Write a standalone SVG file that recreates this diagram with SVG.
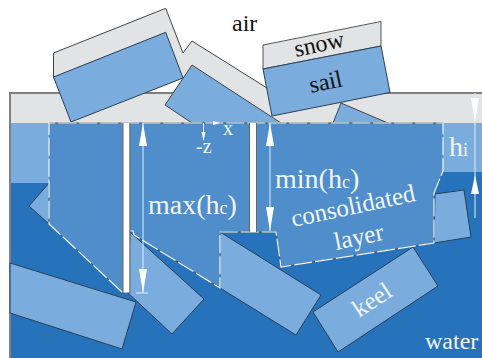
<svg xmlns="http://www.w3.org/2000/svg" width="482" height="358" viewBox="0 0 482 358">
<style>
.snow{fill:#e2e3e4;stroke:#555;stroke-width:1}
.ice{fill:#7aaddd;stroke:#2b3f55;stroke-width:1}
.edge{fill:none;stroke:#444;stroke-width:1}
.dim{stroke:#e3edf7;stroke-width:1;fill:none}
.head{fill:#fff}
text{font-family:"Liberation Serif",serif}
.w{fill:#f2f6fb}
.k{fill:#111}
</style>
<rect width="482" height="358" fill="#fff"/>
<g id="snow-layer"><rect x="10" y="93" width="472" height="30" fill="#e2e3e4"/><path d="M482 93H10V358" fill="none" stroke="#808080" stroke-width="2"/></g>
<g id="water"><rect x="11" y="123" width="471" height="235" fill="#2773bb"/>
<rect x="11" y="123" width="60" height="60" fill="#7aaddd"/><rect x="420" y="123" width="62" height="49" fill="#7aaddd"/></g>
<g id="block-middle"><polygon points="183,53 192,41 267,88 272,116 183,78" fill="#e2e3e4"/><path class="edge" d="M183 53L192 41L267 88"/><path d="M192 65L281 123H192L165 105Z" fill="#7aaddd"/><path class="edge" d="M281 123L192 65L165 105L192 123"/></g>
<g id="block-left"><polygon points="53.500,53 165.700,8.300 183,53 183,78 53.500,77" fill="#e2e3e4"/><path class="edge" d="M53.500 77V53L165.700 8.300L183 53"/><polygon class="ice" points="53.500,77 165.700,32.300 183,78 71,122"/></g>
<g id="block-small"><path d="M341 103L388 123H333Z" fill="#7aaddd"/><path class="edge" d="M333 123L341 103L388 123"/></g>
<g id="block-sail"><polygon class="snow" points="263,45 381,21.500 381,46 263,69"/><polygon class="ice" points="263,69 381,46 390,92.500 272,116"/></g>
<g id="blocks-below">
<polygon class="ice" points="29,206 49,183 49,224"/>
<polygon class="ice" points="10,263 136,302 122,349 10,313"/>
<polygon class="ice" points="130,232 204,299 172,334 128,293"/>
<polygon class="ice" points="220,232 321,295 296,335 220,288"/>
<polygon class="ice" points="413,247 438,286 338,352 313,312"/>
<polygon class="ice" points="435,194 464,190 471,237 434,243"/>
</g>
<g id="consolidated-layer">
<path d="M49 123H443V171L434 193V243L281 267L276 232H220V288L134 235L133 231H130V293H122L49 224Z" fill="#4f8ecb"/>
<path d="M49 123H443M434 243L281 267L276 232H220M220 288L134 235M122 292L49 224" fill="none" stroke="#4a4f55" stroke-width="1"/>
<path d="M122 292L49 224V123H443V171L434 193V243L281 267L276 232H220V288L134 235L133 231H130" fill="none" stroke="#f0f5fa" stroke-width="1.200" stroke-dasharray="18 3"/>
</g>
<g id="slots">
<rect x="123" y="123" width="6.500" height="170" fill="#fff"/><path d="M123 123V293H130V123" fill="none" stroke="#666"/>
<rect x="250" y="123" width="6.500" height="109" fill="#fff"/><path d="M249.500 123V232M256.500 123V232" stroke="#666" fill="none"/>
</g>
<g id="dimensions">
<path class="dim" d="M143 123V293M270 123V231M475 93V218M203.500 123V140"/>
<path class="dim" stroke-width="1.500" d="M136 293H148"/>
<polygon class="head" points="143,123 147,146 139,146"/><polygon class="head" points="143,293 147,269 139,269"/>
<polygon class="head" points="270,123 274,146 266,146"/><polygon class="head" points="270,231 274,207 266,207"/>
<polygon class="head" points="475,122 479,98 471,98"/><polygon class="head" points="475,175 479,194 471,194"/>
<polygon class="head" points="220,123 213,121 213,125"/><polygon class="head" points="203.500,141 201.500,132 205.500,132"/>
</g>
<g id="labels">
<text class="k" x="232" y="31" font-size="24">air</text>
<text class="k" font-size="24" transform="translate(296,57) rotate(-12)">snow</text>
<text class="k" font-size="24" transform="translate(311,93) rotate(-12)">sail</text>
<text class="w" x="148" y="214" font-size="28">max(h<tspan font-size="18">c</tspan>)</text>
<text class="w" x="275" y="188" font-size="28">min(h<tspan font-size="18">c</tspan>)</text>
<text class="w" font-size="25" transform="translate(293,227) rotate(-12)">consolidated</text>
<text class="w" font-size="25" transform="translate(336,250) rotate(-12)">layer</text>
<text class="w" font-size="25" transform="translate(359,318) rotate(-33)">keel</text>
<text class="w" x="425" y="349" font-size="24">water</text>
<text class="w" x="449" y="156" font-size="28">h<tspan font-size="18">i</tspan></text>
<text class="w" x="223" y="135" font-size="20">x</text>
<text class="w" x="196" y="153" font-size="20">-z</text>
</g>
</svg>
